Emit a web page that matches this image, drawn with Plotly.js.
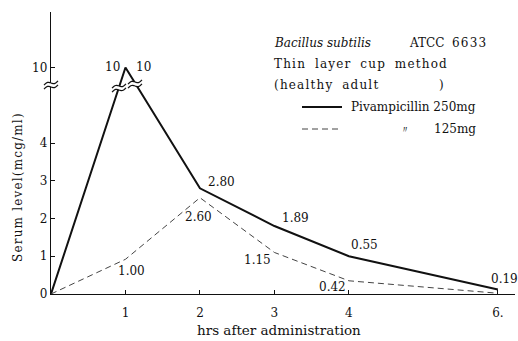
<!DOCTYPE html>
<html><head><meta charset="utf-8">
<script src="https://cdn.plot.ly/plotly-3.0.1.min.js"></script>
<style>html,body{margin:0;padding:0;background:#fff}#c{width:518px;height:341px}</style>
</head><body><div id="c"></div>
<script>
// ---- data ----
const hours = [0, 1, 2, 3, 4, 6];
const piv250 = [0, 10, 2.8, 1.8, 1.0, 0.12];
const piv125 = [0, 0.92, 2.55, 1.1, 0.35, 0.02];
const labels250 = ["", "10", "2.80", "1.89", "0.55", "0.19"];
const labels125 = ["", "1.00", "2.60", "1.15", "0.42", ""];
const xTicks = [1, 2, 3, 4, 6];
const xTickText = ["1", "2", "3", "4", "6."];
const yTicks = [0, 1, 2, 3, 4, 10];
const yTickText = ["0", "1", "2", "3", "4", "10"];
const seriesNames = ["Pivampicillin 250mg", "125mg"];

// broken axis: values above the break are shifted down
function mapY(v) { return v <= 5 ? v : v - 4; }

const FONT = "DejaVu Serif";
const col = "#111";
const HAIR = "\u200A", NB = "\u00A0";
function sp(t) { return t.split("").map(c => c === " " ? NB + NB : c).join(HAIR); }

const traces = [
  {x: hours, y: piv250.map(mapY), mode: "lines", line: {color: col, width: 2}, hoverinfo: "none"},
  {x: hours, y: piv125.map(mapY), mode: "lines", line: {color: "#444", width: 1, dash: "6px,4px"}, hoverinfo: "none"}
];

// label offsets (style, px)
const off250 = [null, [18, 0], [22, 6], [21, 8], [16, 11], [7, 10]];
const off125 = [null, [6, -12], [-1, -19], [-17, -8], [-16, -6], null];

const ann = [];
function lab(x, y, t, o) {
  if (!t || !o) return;
  ann.push({x: x, y: y, xref: "x", yref: "y", text: t, showarrow: false, xshift: o[0], yshift: o[1],
    font: {family: FONT, size: 12, color: col}});
}
hours.forEach((h, i) => { lab(h, mapY(piv250[i]), labels250[i], off250[i]); lab(h, mapY(piv125[i]), labels125[i], off125[i]); });
ann.push({x: hours[1], y: mapY(piv250[1]), xref: "x", yref: "y", text: labels250[1], showarrow: false, xshift: -13, yshift: 0,
  font: {family: FONT, size: 12, color: col}});

function ptxt(px, py, t, size, anchor, extra) {
  ann.push(Object.assign({x: (px - 51) / 464, y: (294 - py) / 282, xref: "paper", yref: "paper", text: t, showarrow: false,
    xanchor: anchor || "left", yanchor: "middle", font: {family: FONT, size: size || 12, color: col}}, extra || {}));
}
ptxt(272, 43, "<i>Bacillus subtilis</i>", 12);
ptxt(407, 43, "ATCC" + NB + NB + "6633".split("").join(HAIR), 12);
ptxt(272, 64, sp("Thin layer cup method"), 12);
ptxt(272, 85, sp("(healthy adult"), 12);
ptxt(437, 85, ")", 12);
ptxt(478, 107, seriesNames[0], 12, "right");
ptxt(405, 129, "〃", 10, "center");
ptxt(478, 129, seriesNames[1], 12, "right");
ptxt(18, 188, "Serum level(mcg/ml)".split("").join(HAIR), 12, "center", {textangle: -90});
ptxt(279, 330, "hrs after administration", 13.5, "center");

const shapes = [
  {type: "line", xref: "paper", yref: "paper", x0: (302 - 51) / 464, x1: (342 - 51) / 464, y0: (294 - 107) / 282, y1: (294 - 107) / 282, line: {color: col, width: 2}},
  {type: "line", xref: "paper", yref: "paper", x0: (302 - 51) / 464, x1: (342 - 51) / 464, y0: (294 - 129) / 282, y1: (294 - 129) / 282, line: {color: "#444", width: 1, dash: "6px,4px"}}
];
function wave(cx, cy) {
  const pts = (dy) => {
    let d = "";
    for (let k = 0; k <= 12; k++) {
      const px = cx - 7 + k * 14 / 12;
      const py = cy + dy - Math.sin(k / 12 * 2 * Math.PI) * 1.6 - (k - 6) * 0.35;
      d += (k ? " L" : "M") + ((px - 51) / 464).toFixed(4) + "," + ((294 - py) / 282).toFixed(4);
    }
    return d;
  };
  shapes.push({type: "rect", xref: "paper", yref: "paper", x0: (cx - 5 - 51) / 464, x1: (cx + 5 - 51) / 464,
    y0: (294 - cy - 2) / 282, y1: (294 - cy + 2) / 282, fillcolor: "#fff", line: {width: 0}, layer: "above"});
  shapes.push({type: "path", xref: "paper", yref: "paper", path: pts(-2), line: {color: col, width: 1.2}, layer: "above"});
  shapes.push({type: "path", xref: "paper", yref: "paper", path: pts(2), line: {color: col, width: 1.2}, layer: "above"});
}
wave(51, 85);
wave(119, 88);
wave(135, 84);

const layout = {
  width: 518, height: 341,
  margin: {l: 51, r: 3, t: 12, b: 47},
  paper_bgcolor: "#fff", plot_bgcolor: "#fff",
  showlegend: false,
  xaxis: {range: [0, 6.23], tickvals: xTicks, ticktext: xTickText, showgrid: false, zeroline: false,
    showline: true, linecolor: col, linewidth: 1.2, ticks: "inside", ticklen: 4, tickcolor: col, ticklabelstandoff: 7,
    tickfont: {family: FONT, size: 12, color: col}, fixedrange: true},
  yaxis: {range: [0, 7.47], tickvals: yTicks.map(mapY), ticktext: yTickText, showgrid: false, zeroline: false,
    showline: true, linecolor: col, linewidth: 1.2, ticks: "inside", ticklen: 4, tickcolor: col,
    tickfont: {family: FONT, size: 12, color: col}, fixedrange: true},
  annotations: ann,
  shapes: shapes
};
Plotly.newPlot("c", traces, layout, {staticPlot: true, displayModeBar: false});
</script></body></html>
